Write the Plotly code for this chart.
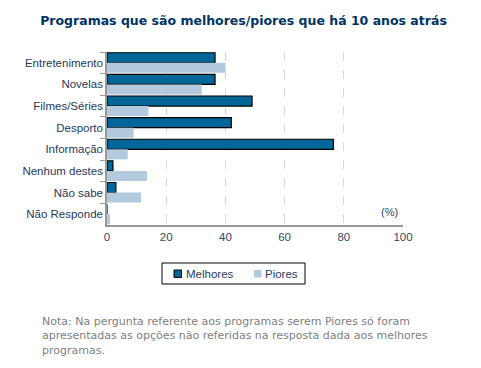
import plotly.graph_objects as go

categories = ["Entretenimento", "Novelas", "Filmes/Séries", "Desporto", "Informação",
              "Nenhum destes", "Não sabe", "Não Responde"]
melhores = [36.5, 36.5, 49, 42, 76.5, 2, 3, 0]
piores = [40, 32, 14, 9, 7, 13.5, 11.5, 1]
x_ticks = [0, 20, 40, 60, 80, 100]
series_names = ["Melhores", "Piores"]
series_colors = ["#006699", "#B3C9DD"]

title = "Programas que são melhores/piores que há 10 anos atrás"
note = ("Nota: Na pergunta referente aos programas serem Piores só foram<br>"
        "apresentadas as opções não referidas na resposta dada aos melhores<br>"
        "programas.")

L, R, T, B = 107, 78, 52, 143
W, H = 481, 368
pw, ph = W - L - R, H - T - B

def px(x):
    return (x - L) / pw

def py(y):
    return (H - B - y) / ph

fig = go.Figure()
fig.add_trace(go.Bar(y=categories, x=melhores, name=series_names[0], orientation="h",
                     marker=dict(color=series_colors[0], line=dict(color="#000000", width=1.2))))
fig.add_trace(go.Bar(y=categories, x=piores, name=series_names[1], orientation="h",
                     marker=dict(color=series_colors[1], line=dict(width=0))))

# legend box drawn as shapes/annotations in paper coordinates
shapes = [
    dict(type="rect", xref="paper", yref="paper", x0=px(162), x1=px(305), y0=py(263), y1=py(284),
         line=dict(color="#000000", width=1), fillcolor="white"),
    dict(type="rect", xref="paper", yref="paper", x0=px(174), x1=px(181.5), y0=py(270), y1=py(277.5),
         line=dict(color="#000000", width=1), fillcolor=series_colors[0]),
    dict(type="rect", xref="paper", yref="paper", x0=px(254), x1=px(261.5), y0=py(270), y1=py(277.5),
         line=dict(width=0), fillcolor=series_colors[1]),
]

fig.update_layout(
    width=W, height=H,
    margin=dict(l=L, r=R, t=T, b=B, pad=0, autoexpand=False),
    paper_bgcolor="white", plot_bgcolor="white",
    barmode="group", bargap=0.07, bargroupgap=0,
    font=dict(family="Liberation Sans, Arial, sans-serif", size=11, color="#1F3A60"),
    title=dict(text="<b>" + title + "</b>", x=px(243.5), xref="paper", xanchor="center",
               y=1 - 21 / H, yref="container", yanchor="middle",
               font=dict(family="DejaVu Sans, Verdana, sans-serif", size=12.5, color="#003366")),
    showlegend=False,
    xaxis=dict(range=[0, 100], tickvals=x_ticks, showgrid=True, gridcolor="#D9D9D9",
               griddash="dash", gridwidth=1, showline=True, linecolor="#999999",
               linewidth=1.5, ticks="", zeroline=False, automargin=False,
               tickfont=dict(color="#2F4A6A", size=11.5)),
    yaxis=dict(categoryorder="array", categoryarray=categories, autorange="reversed",
               showline=True, linecolor="#999999", linewidth=1.5, ticks="outside",
               tickson="boundaries", ticklen=5, tickcolor="#999999", showgrid=False,
               automargin=False,
               tickfont=dict(color="#1F3A60", size=11.5)),
    shapes=shapes,
    annotations=[
        dict(text="(%)", xref="paper", yref="paper", x=px(400), y=py(211.5),
             xanchor="right", yanchor="middle", showarrow=False,
             font=dict(size=11, color="#2F4A6A")),
        dict(text=series_names[0], xref="paper", yref="paper", x=px(184), y=py(273.5),
             xanchor="left", yanchor="middle", showarrow=False,
             font=dict(size=11.5, color="#1F3A60")),
        dict(text=series_names[1], xref="paper", yref="paper", x=px(263), y=py(273.5),
             xanchor="left", yanchor="middle", showarrow=False,
             font=dict(size=11.5, color="#1F3A60")),
        dict(text=note, xref="paper", yref="paper", x=px(40), y=py(313),
             xanchor="left", yanchor="top", align="left", showarrow=False,
             font=dict(family="DejaVu Sans, Verdana, sans-serif", size=11, color="#808080")),
    ],
)

fig.write_html("out.html", config={"displayModeBar": False},
               post_script="document.body.style.margin='0';document.body.style.overflow='hidden';")
